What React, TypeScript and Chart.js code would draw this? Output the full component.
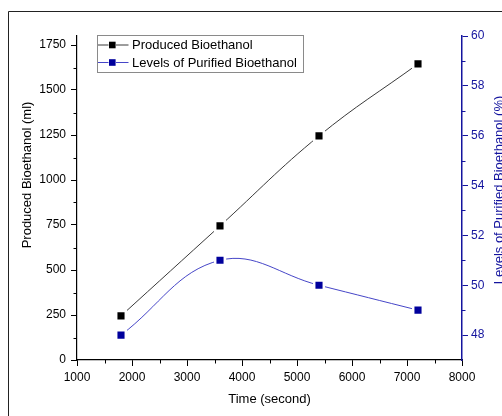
import React, { useEffect, useRef } from 'react';
import { Chart, registerables } from 'chart.js';

Chart.register(...registerables);

// ---- data ----
const timeSec = [1800, 3600, 5400, 7200];
const producedMl = [245, 745, 1245, 1645];
const purifiedPct = [48.0, 51.0, 50.0, 49.0];

const seriesLabels = ['Produced Bioethanol', 'Levels of Purified Bioethanol'];
const xTitle = 'Time (second)';
const yLeftTitle = 'Produced Bioethanol (ml)';
const yRightTitle = 'Levels of Purified Bioethanol (%)';

const xTicks = [1000, 2000, 3000, 4000, 5000, 6000, 7000, 8000];
const xMinor = [1500, 2500, 3500, 4500, 5500, 6500, 7500];
const yLeftTicks = [0, 250, 500, 750, 1000, 1250, 1500, 1750];
const yLeftMinor = [125, 375, 625, 875, 1125, 1375, 1625];
const yRightTicks = [48, 50, 52, 54, 56, 58, 60];
const yRightMinor = [49, 51, 53, 55, 57, 59];

const FONT = '"Liberation Sans", Arial, sans-serif';
const NAVY = '#14149e';
const BLACK_LINE = '#3a3a3a';
const BLUE_LINE = '#4646c8';

const W = 502;
const H = 416;

const decorPlugin = {
  id: 'decor',
  beforeDraw(chart: any) {
    const ctx = chart.ctx;
    ctx.save();
    ctx.fillStyle = '#fff';
    ctx.fillRect(0, 0, chart.width, chart.height);
    ctx.strokeStyle = '#222';
    ctx.lineWidth = 1;
    ctx.beginPath();
    ctx.moveTo(8.5, chart.height);
    ctx.lineTo(8.5, 11.5);
    ctx.lineTo(chart.width, 11.5);
    ctx.stroke();
    ctx.restore();
  },
  afterDraw(chart: any) {
    const ctx = chart.ctx;
    const { x, y, y1 } = chart.scales;
    const area = chart.chartArea;
    ctx.save();
    // minor ticks
    ctx.lineWidth = 1;
    ctx.strokeStyle = '#000';
    ctx.beginPath();
    xMinor.forEach((v) => {
      const px = Math.round(x.getPixelForValue(v)) + 0.5;
      ctx.moveTo(px, area.bottom);
      ctx.lineTo(px, area.bottom + 3.5);
    });
    yLeftMinor.forEach((v) => {
      const py = Math.round(y.getPixelForValue(v)) + 0.5;
      ctx.moveTo(area.left, py);
      ctx.lineTo(area.left - 3.5, py);
    });
    ctx.stroke();
    ctx.strokeStyle = NAVY;
    ctx.beginPath();
    yRightMinor.forEach((v) => {
      const py = Math.round(y1.getPixelForValue(v)) + 0.5;
      ctx.moveTo(area.right, py);
      ctx.lineTo(area.right + 3.5, py);
    });
    ctx.stroke();

    // y titles
    ctx.font = `13px ${FONT}`;
    ctx.textAlign = 'center';
    ctx.textBaseline = 'middle';
    ctx.save();
    ctx.translate(27.5, 175);
    ctx.rotate(-Math.PI / 2);
    ctx.fillStyle = '#000';
    ctx.fillText(yLeftTitle, 0, 0);
    ctx.restore();
    ctx.save();
    ctx.translate(499.5, 190);
    ctx.rotate(-Math.PI / 2);
    ctx.fillStyle = NAVY;
    ctx.fillText(yRightTitle, 0, 0);
    ctx.restore();

    // legend
    const bx = 97.5, by = 35.5, bw = 206, bh = 37;
    ctx.strokeStyle = '#8a8a8a';
    ctx.lineWidth = 1;
    ctx.strokeRect(bx, by, bw, bh);
    const rows = [
      { label: chart.data.datasets[0].label, line: BLACK_LINE, fill: '#000', yc: 45 },
      { label: chart.data.datasets[1].label, line: BLUE_LINE, fill: '#00009c', yc: 62.5 },
    ];
    rows.forEach((r) => {
      ctx.strokeStyle = r.line;
      ctx.lineWidth = 1;
      ctx.beginPath();
      ctx.moveTo(98, r.yc);
      ctx.lineTo(108.5, r.yc);
      ctx.moveTo(116, r.yc);
      ctx.lineTo(128.5, r.yc);
      ctx.stroke();
      ctx.fillStyle = r.fill;
      ctx.fillRect(109, r.yc - 3.3, 6.6, 6.6);
      ctx.fillStyle = '#000';
      ctx.textAlign = 'left';
      ctx.textBaseline = 'middle';
      ctx.font = `13px ${FONT}`;
      ctx.fillText(r.label, 132, r.yc + 0.5);
    });
    ctx.restore();
  },
};

export default function App() {
  const canvasRef = useRef<HTMLCanvasElement | null>(null);

  useEffect(() => {
    const canvas = canvasRef.current;
    if (!canvas) return;
    const tickFont = { family: FONT, size: 12 };
    const chart = new Chart(canvas, {
      type: 'line',
      data: {
        datasets: [
          {
            label: seriesLabels[0],
            data: timeSec.map((t, i) => ({ x: t, y: producedMl[i] })),
            yAxisID: 'y',
            borderColor: BLACK_LINE,
            borderWidth: 1,
            tension: 0.4,
            pointStyle: 'rect',
            pointRadius: 6.8,
            pointBackgroundColor: '#000',
            pointBorderColor: '#fff',
            pointBorderWidth: 2.5,
            fill: false,
          },
          {
            label: seriesLabels[1],
            data: timeSec.map((t, i) => ({ x: t, y: purifiedPct[i] })),
            yAxisID: 'y1',
            borderColor: BLUE_LINE,
            borderWidth: 1,
            tension: 0.4,
            pointStyle: 'rect',
            pointRadius: 6.8,
            pointBackgroundColor: '#00009c',
            pointBorderColor: '#fff',
            pointBorderWidth: 2.5,
            fill: false,
          },
        ],
      },
      options: {
        responsive: false,
        animation: false,
        events: [],
        layout: { padding: { top: 36, left: 0, right: 0, bottom: 0 } },
        plugins: {
          legend: { display: false },
          tooltip: { enabled: false },
          title: { display: false },
        },
        scales: {
          x: {
            type: 'linear',
            min: 1000,
            max: 8000,
            afterBuildTicks: (s: any) => {
              s.ticks = xTicks.map((v) => ({ value: v }));
            },
            afterFit: (s: any) => {
              s.height = H - 360;
            },
            ticks: {
              callback: (v: any) => String(v),
              font: tickFont,
              color: '#000',
              padding: 4,
              maxRotation: 0,
              autoSkip: false,
            },
            grid: { drawOnChartArea: false, tickLength: 6, tickColor: '#000', tickWidth: 1 },
            border: { display: true, color: '#000', width: 1.2 },
            title: {
              display: true,
              text: xTitle,
              color: '#000',
              font: { family: FONT, size: 13 },
              padding: { top: 0, bottom: 9 },
            },
          },
          y: {
            type: 'linear',
            position: 'left',
            min: 0,
            max: 1800,
            afterBuildTicks: (s: any) => {
              s.ticks = yLeftTicks.map((v) => ({ value: v }));
            },
            afterFit: (s: any) => {
              s.width = 77;
            },
            ticks: {
              callback: (v: any) => String(v),
              font: tickFont,
              color: '#000',
              padding: 5,
              autoSkip: false,
            },
            grid: { drawOnChartArea: false, tickLength: 6, tickColor: '#000', tickWidth: 1 },
            border: { display: true, color: '#000', width: 1.2 },
          },
          y1: {
            type: 'linear',
            position: 'right',
            min: 47,
            max: 60,
            afterBuildTicks: (s: any) => {
              s.ticks = yRightTicks.map((v) => ({ value: v }));
            },
            afterFit: (s: any) => {
              s.width = W - 462;
            },
            ticks: {
              callback: (v: any) => String(v),
              font: tickFont,
              color: NAVY,
              padding: 3,
              autoSkip: false,
            },
            grid: { drawOnChartArea: false, tickLength: 6, tickColor: NAVY, tickWidth: 1 },
            border: { display: true, color: NAVY, width: 1.5 },
          },
        },
      },
      plugins: [decorPlugin],
    } as any);
    return () => chart.destroy();
  }, []);

  return (
    <div style={{ position: 'fixed', left: 0, top: 0, width: W, height: H, overflow: 'hidden', background: '#fff' }}>
      <canvas ref={canvasRef} width={W} height={H} style={{ display: 'block' }} />
    </div>
  );
}
